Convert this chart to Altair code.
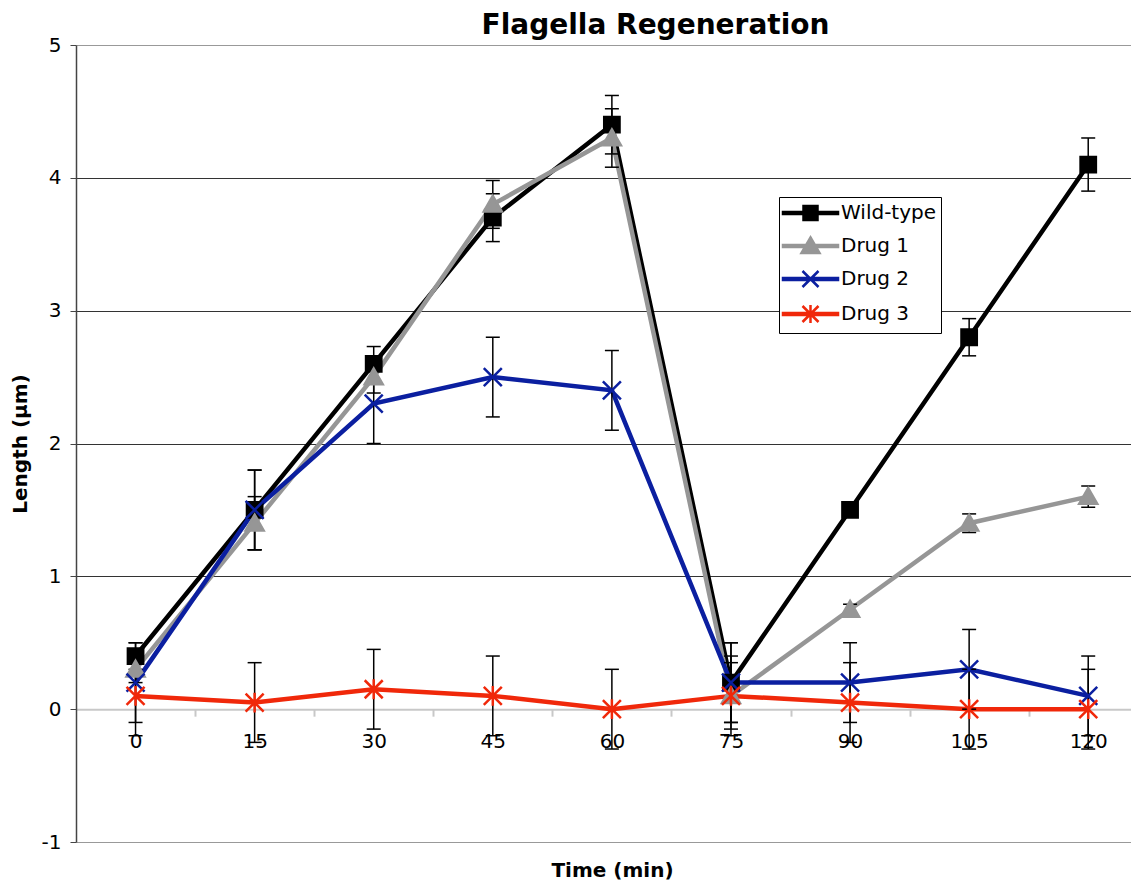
import altair as alt
import pandas as pd

# ---------------- data ----------------
times = [0, 15, 30, 45, 60, 75, 90, 105, 120]
series_names = ["Wild-type", "Drug 1", "Drug 2", "Drug 3"]

wild_type = [0.4, 1.5, 2.6, 3.7, 4.4, 0.2, 1.5, 2.8, 4.1]
wild_type_err = [0.1, 0.3, 0.13, 0.18, 0.22, 0.3, 0.05, 0.14, 0.2]
drug1 = [0.3, 1.4, 2.5, 3.8, 4.3, 0.1, 0.75, 1.4, 1.6]
drug1_err = [0.1, 0.2, 0.12, 0.18, 0.22, 0.25, 0.04, 0.07, 0.08]
drug2 = [0.2, 1.5, 2.3, 2.5, 2.4, 0.2, 0.2, 0.3, 0.1]
drug2_err = [0.3, 0.3, 0.3, 0.3, 0.3, 0.3, 0.3, 0.3, 0.3]
drug3 = [0.1, 0.05, 0.15, 0.1, 0.0, 0.1, 0.05, 0.0, 0.0]
drug3_err = [0.3, 0.3, 0.3, 0.3, 0.3, 0.3, 0.3, 0.3, 0.3]

y_ticks = [-1, 0, 1, 2, 3, 4, 5]
series_colors = ["#000000", "#969696", "#0B1FA0", "#F0280A"]

# marker glyphs (custom symbol paths)
marker_paths = [
    "M-0.85,-0.85H0.85V0.85H-0.85Z",
    "M0,-0.95L1,0.8H-1Z",
    "M-1,-1L1,1M-1,1L1,-1",
    "M-1,-1L1,1M-1,1L1,-1M0,-1.1V1.1",
]
legend_line = "M-2.75,-0.1H2.75V0.1H-2.75Z"
legend_paths = [
    legend_line + "M-0.7,-0.7H0.7V0.7H-0.7Z",
    legend_line + "M0,-0.85L0.9,0.7H-0.9Z",
    legend_line + "M-0.8,-0.8L0.8,0.8M-0.8,0.8L0.8,-0.8",
    legend_line + "M-0.8,-0.8L0.8,0.8M-0.8,0.8L0.8,-0.8M0,-0.9V0.9",
]

values_by_series = [wild_type, drug1, drug2, drug3]
errors_by_series = [wild_type_err, drug1_err, drug2_err, drug3_err]

rows = []
for k, name in enumerate(series_names):
    for t, v, e in zip(times, values_by_series[k], errors_by_series[k]):
        rows.append({"series": name, "order": k, "time": t, "value": v,
                     "lo": v - e, "hi": v + e})
df = pd.DataFrame(rows)

# ---------------- layout ----------------
PX_PER_MIN = 7.939
W, H = 1055, 797
X_MAX = -7.5 + W / PX_PER_MIN
FONT = "DejaVu Sans"
half_cat = 7.5 * PX_PER_MIN
axis_y = 37 + H - H / 6  # svg y of the zero line

x_scale = alt.Scale(domain=[-7.5, X_MAX], nice=False, zero=False)
y_scale = alt.Scale(domain=[-1, 5], nice=False, zero=False)

x_axis = alt.Axis(
    values=times, title="Time (min)", offset=-H / 6,
    domain=True, domainColor="#c8c8c8", domainWidth=2,
    ticks=True, tickColor="#c8c8c8", tickWidth=2, tickSize=7,
    tickOffset=half_cat, labelOffset=-half_cat, labelPadding=15,
    labelFont=FONT, labelFontSize=20, labelColor="black",
    labelFlush=False, labelOverlap=False, grid=False,
    titleFont=FONT, titleFontSize=20, titleFontWeight="bold", titleColor="black",
    titleX=536, titleY=868 - axis_y, titleAlign="center", titleBaseline="alphabetic",
)
y_axis = alt.Axis(
    values=y_ticks, title="Length (µm)",
    domainColor="#444444", domainWidth=1.5,
    tickColor="#444444", tickSize=6, tickWidth=1,
    labelPadding=9, labelFont=FONT, labelFontSize=20, labelColor="black",
    labelExpr="'' + datum.value", labelFlush=False, labelOverlap=False,
    grid=True, gridWidth=1,
    gridColor=alt.condition("datum.value > -1 && datum.value < 5",
                            alt.value("#333333"), alt.value("#999999")),
    gridOpacity=alt.condition("datum.value == 0", alt.value(0), alt.value(1)),
    titleFont=FONT, titleFontSize=20, titleFontWeight="bold", titleColor="black",
    titleX=-50, titleY=H / 2, titleAlign="center", titleBaseline="alphabetic",
    titleAngle=270,
)

X = alt.X("time:Q", scale=x_scale, axis=x_axis)
Y = alt.Y("value:Q", scale=y_scale, axis=y_axis)

base = alt.Chart(df)

lines = [
    base.transform_filter(alt.datum.series == name)
    .mark_line(color=series_colors[k], strokeWidth=4.5)
    .encode(x=X, y=Y)
    for k, name in enumerate(series_names)
]

err_rule = base.mark_rule(color="black", strokeWidth=1.5).encode(
    x=X, y=alt.Y("lo:Q", scale=y_scale, axis=y_axis), y2="hi:Q")
err_lo = base.mark_tick(color="black", orient="horizontal", size=14,
                        thickness=1.5, opacity=1).encode(
    x=X, y=alt.Y("lo:Q", scale=y_scale, axis=y_axis))
err_hi = base.mark_tick(color="black", orient="horizontal", size=14,
                        thickness=1.5, opacity=1).encode(
    x=X, y=alt.Y("hi:Q", scale=y_scale, axis=y_axis))

color_scale = alt.Scale(domain=series_names, range=series_colors)

markers = base.mark_point(filled=True, size=324, strokeWidth=2.5, opacity=1).encode(
    x=X, y=Y,
    fill=alt.Fill("series:N", scale=color_scale, legend=None),
    stroke=alt.Stroke("series:N", scale=color_scale, legend=None),
    shape=alt.Shape("series:N", scale=alt.Scale(domain=series_names, range=marker_paths),
                    legend=None),
    order=alt.Order("order:Q"),
)

legend = alt.Legend(
    title=None, orient="none", legendX=703, legendY=152,
    padding=4.5, strokeColor="black", fillColor="white", cornerRadius=0,
    labelFont=FONT, labelFontSize=20, labelColor="black",
    symbolSize=400, symbolStrokeWidth=2.5, symbolOpacity=1,
    symbolOffset=15.5, labelOffset=19, rowPadding=7,
)
legend_layer = base.transform_filter("false").mark_point(
    filled=True, size=400, strokeWidth=2.5, opacity=1).encode(
    fill=alt.Fill("series:N", scale=alt.Scale(domain=series_names, range=series_colors),
                  legend=legend),
    stroke=alt.Stroke("series:N", scale=alt.Scale(domain=series_names, range=series_colors),
                      legend=legend),
    shape=alt.Shape("series:N", scale=alt.Scale(domain=series_names, range=legend_paths),
                    legend=legend),
)

chart = alt.layer(*lines, err_rule, err_lo, err_hi, markers, legend_layer).resolve_scale(
    fill="independent", stroke="independent", shape="independent"
).properties(
    width=W, height=H,
    autosize=alt.AutoSizeParams(type="none"),
    padding={"left": 68, "top": 37, "right": 0, "bottom": 39},
    title=alt.TitleParams("Flagella Regeneration", font=FONT, fontSize=28,
                          fontWeight="bold", color="black", anchor="middle",
                          frame="group", dx=52, dy=5, offset=0),
).configure_view(stroke=None)

chart.save("out.html", embed_options={"renderer": "svg", "actions": False})
